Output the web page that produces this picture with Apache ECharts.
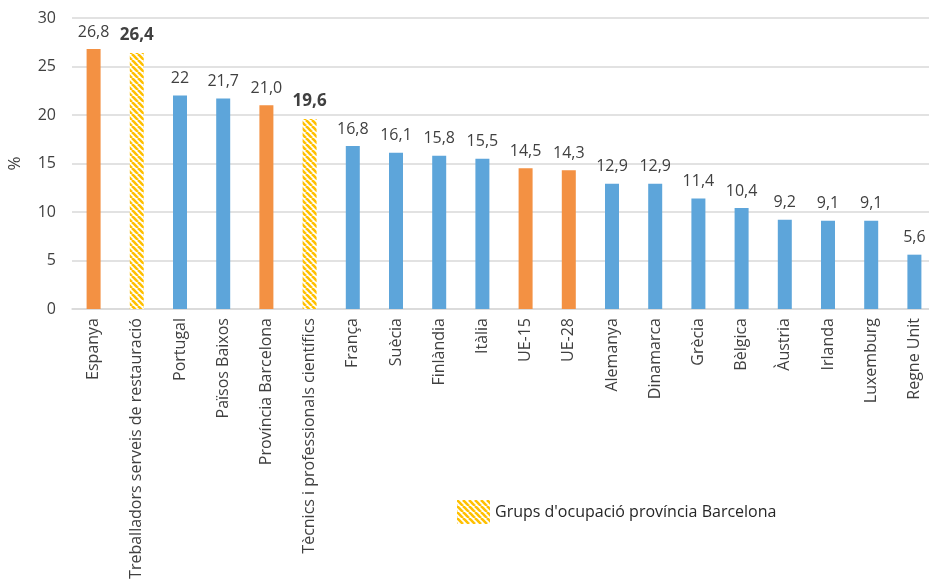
<!DOCTYPE html>
<html>
<head>
<meta charset="utf-8">
<script src="https://cdn.jsdelivr.net/npm/echarts@6/dist/echarts.min.js"></script>
<style>
  html, body { margin: 0; padding: 0; background: #fff; }
  #chart { width: 929px; height: 584px; }
</style>
</head>
<body>
<div id="chart"></div>
<script>
// dades
var categories = ['Espanya', 'Treballadors serveis de restauració', 'Portugal', 'Països Baixos',
  'Província Barcelona', 'Tècnics i professionals científics', 'França', 'Suècia', 'Finlàndia',
  'Itàlia', 'UE-15', 'UE-28', 'Alemanya', 'Dinamarca', 'Grècia', 'Bèlgica', 'Àustria', 'Irlanda',
  'Luxemburg', 'Regne Unit'];
var values = [26.8, 26.4, 22, 21.7, 21.0, 19.6, 16.8, 16.1, 15.8, 15.5, 14.5, 14.3, 12.9, 12.9,
  11.4, 10.4, 9.2, 9.1, 9.1, 5.6];
var valueLabels = ['26,8', '26,4', '22', '21,7', '21,0', '19,6', '16,8', '16,1', '15,8', '15,5',
  '14,5', '14,3', '12,9', '12,9', '11,4', '10,4', '9,2', '9,1', '9,1', '5,6'];
// 'es' = Espanya / Barcelona / UE, 'grup' = grups d'ocupació, 'eu' = altres països
var groups = ['es', 'grup', 'eu', 'eu', 'es', 'grup', 'eu', 'eu', 'eu', 'eu', 'es', 'es', 'eu', 'eu',
  'eu', 'eu', 'eu', 'eu', 'eu', 'eu'];
var yTicks = [0, 5, 10, 15, 20, 25, 30];

var FONT = '"Open Sans", sans-serif';
var TXT = '#404040';

// patró ratllat groc
function hatch() {
  var c = document.createElement('canvas');
  c.width = 6; c.height = 6;
  var ctx = c.getContext('2d');
  ctx.fillStyle = '#ffffff';
  ctx.fillRect(0, 0, 6, 6);
  ctx.strokeStyle = '#FFC000';
  ctx.lineWidth = 2.6;
  [-6, 0, 6].forEach(function (o) {
    ctx.beginPath();
    ctx.moveTo(o, 0);
    ctx.lineTo(o + 6, 6);
    ctx.stroke();
  });
  return c;
}
var hatchPattern = { image: hatch(), repeat: 'repeat' };

var colorOf = { es: '#F39143', eu: '#5DA5DA' };

var baseData = values.map(function (v, i) {
  if (groups[i] === 'grup') return '-';
  return {
    value: v,
    itemStyle: { color: colorOf[groups[i]] },
    label: { formatter: valueLabels[i] }
  };
});
var grupData = values.map(function (v, i) {
  if (groups[i] !== 'grup') return '-';
  return { value: v, label: { formatter: valueLabels[i] } };
});

var chart = echarts.init(document.getElementById('chart'));
chart.setOption({
  animation: false,
  textStyle: { fontFamily: FONT },
  grid: { left: 72, top: 18, width: 864, height: 291, containLabel: false, outerBoundsMode: 'none' },
  legend: {
    data: ["Grups d'ocupació província Barcelona"],
    left: 457, top: 500, padding: 0,
    itemWidth: 33, itemHeight: 24, itemGap: 6,
    icon: 'rect',
    textStyle: { fontFamily: FONT, fontSize: 16, color: '#262626' }
  },
  xAxis: {
    type: 'category',
    data: categories,
    axisLine: { lineStyle: { color: '#d9d9d9', width: 1.5 } },
    axisTick: { show: false },
    axisLabel: { rotate: 90, interval: 0, fontSize: 16, color: TXT, margin: 9, fontFamily: FONT }
  },
  yAxis: {
    type: 'value',
    min: yTicks[0], max: yTicks[yTicks.length - 1], interval: 5,
    name: '%', nameLocation: 'middle', nameRotate: 90, nameGap: 48,
    nameTextStyle: { fontSize: 17, color: TXT, fontFamily: FONT },
    axisLine: { show: false },
    axisTick: { show: false },
    axisLabel: { fontSize: 16, color: TXT, margin: 16, fontFamily: FONT },
    splitLine: { lineStyle: { color: '#d9d9d9', width: 1.5 } }
  },
  series: [
    {
      name: 'Països',
      type: 'bar',
      barWidth: 14,
      barGap: '-100%',
      data: baseData,
      label: { show: true, position: 'top', distance: 9, fontSize: 16, color: TXT, fontFamily: FONT }
    },
    {
      name: "Grups d'ocupació província Barcelona",
      type: 'bar',
      barWidth: 14,
      data: grupData,
      itemStyle: { color: hatchPattern },
      label: { show: true, position: 'top', distance: 9, fontSize: 17, fontWeight: 'bold', color: TXT, fontFamily: FONT }
    }
  ]
});
</script>
</body>
</html>
